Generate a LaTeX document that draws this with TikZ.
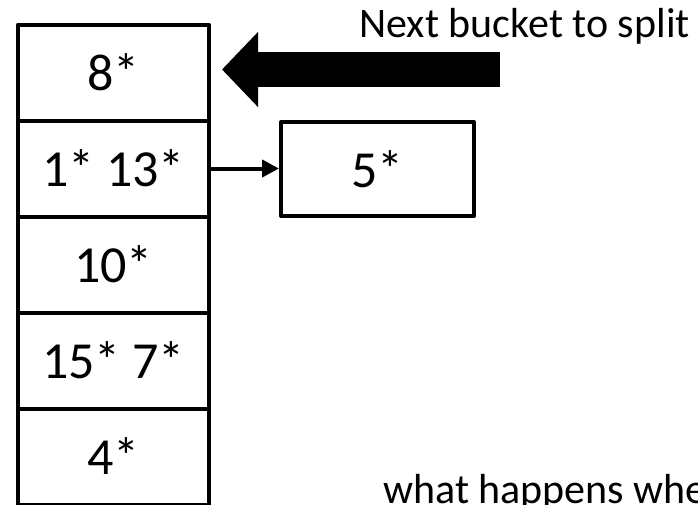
\documentclass[tikz,border=0pt]{standalone}
\usepackage{fontspec}
\setmainfont{Carlito}
\usetikzlibrary{positioning, arrows.meta}

\begin{document}
\begin{tikzpicture}[x=1pt, y=-1pt,
            bk/.style={draw, line width=4pt, line join=round, minimum width=191pt, minimum height=96pt, inner sep=0, font=\fontsize{52}{60}\selectfont},
            lbl/.style={inner sep=0, font=\fontsize{42}{50}\selectfont}]
            \useasboundingbox (0,0) rectangle (698,504);
            % Buckets
            \foreach \i/\lab in {0/8*, 1/1* 13*, 2/10*, 3/15* 7*, 4/4*} {
                \node[bk] (B\i) at (113.5, 72.5+96*\i) {\lab};
            }
            % Overflow page
            \node[bk, minimum width=193pt, minimum height=94pt] (over) at (377.5, 169) {5*};
            \draw[line width=4pt, -{Triangle[length=17pt, width=17pt]}] (B1.east) -- (B1.east -| over.west);

            % Split pointer
            \coordinate (ptr) at (500, 69.5);
            \draw[line width=35pt, -{Triangle[length=36pt, width=73pt]}, shorten >=11pt] (ptr) -- (ptr -| B0.east);
            \node[lbl, anchor=base east] (next) at (690, 37) {Next bucket to split};
            \node[lbl, anchor=base west] (what) at (383, 503) {what happens whe};
        \end{tikzpicture}
\end{document}
